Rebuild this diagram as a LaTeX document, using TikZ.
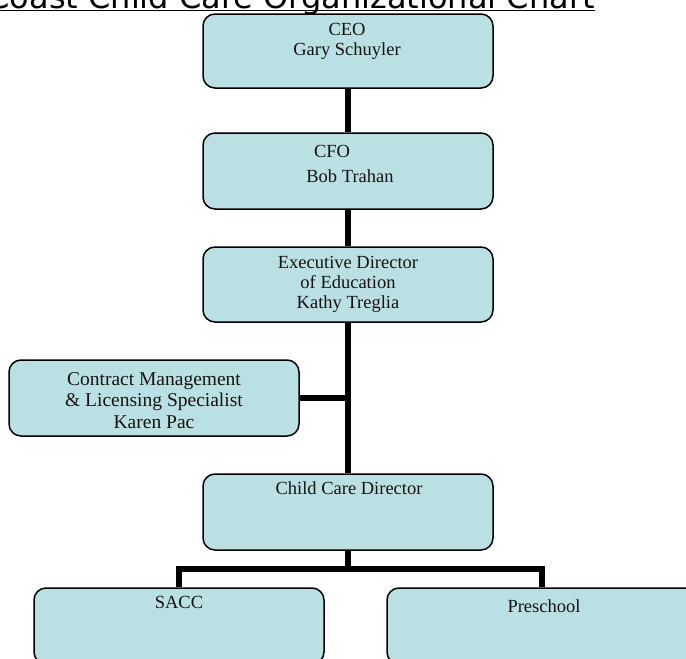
\documentclass[tikz,border=0pt]{standalone}
\usepackage{fontspec}
\newfontfamily\serifface{Liberation Serif}
\newfontfamily\titleface{DejaVu Sans}
\definecolor{boxfill}{RGB}{187,224,227}
\definecolor{textdark}{RGB}{20,20,20}
\tikzset{
  box/.style={draw=black, line width=1.5pt, fill=boxfill, rounded corners=12pt,
    minimum width=290pt, minimum height=76pt, inner sep=0pt},
  lbl/.style={font=\serifface\fontsize{18.5}{20}\selectfont, align=center,
    inner sep=0pt, anchor=north, text=textdark},
  conn/.style={line width=6.5pt, black}
}
\begin{document}
\begin{tikzpicture}[x=1pt,y=-1pt]
\useasboundingbox (0,0) rectangle (686,659);
\begin{scope}
\clip (0,0) rectangle (686,659);
% title
\node[anchor=base east, inner sep=0pt, font=\titleface\fontsize{32}{32}\selectfont, text=black] (title) at (595,8) {Coast Child Care Organizational Chart};
\draw[line width=1.5pt] ([yshift=-2.5pt]title.base west) -- ([yshift=-2.5pt]title.base east);
% boxes
\node[box, minimum height=74pt] (ceo) at (348,51) {};
\node[box] (cfo) at (348,171) {};
\node[box, minimum height=75pt] (exec) at (348,284.5) {};
\node[box] (contract) at (154,398) {};
\node[box] (child) at (348,512) {};
\node[box] (sacc) at (179,626) {};
\node[box, minimum width=310pt] (pre) at (542,626) {};
% connectors
\coordinate (split) at (348,569);
\draw[conn] (ceo.south) -- (cfo.north);
\draw[conn] (cfo.south) -- (exec.north);
\draw[conn] (exec.south) -- (child.north);
\draw[conn] (contract.east) -- (contract.east -| exec.south);
\draw[conn] (child.south) -- (split);
\draw[conn] (sacc.north) |- (split) -| (pre.north);
% labels
\node[lbl] (ceo-t) at (347,23) {CEO\\Gary Schuyler};
\node[lbl] (cfo-t1) at (332,145) {CFO};
\node[lbl] (cfo-t2) at (350,169) {Bob Trahan};
\node[lbl] (exec-t) at (348,256) {Executive Director\\of Education\\Kathy Treglia};
\node[lbl, font=\serifface\fontsize{19.5}{21.5}\selectfont] (contract-t) at (154,372) {Contract Management\\\& Licensing Specialist\\Karen Pac};
\node[lbl] (child-t) at (349,481) {Child Care Director};
\node[lbl] (sacc-t) at (179,596) {SACC};
\node[lbl] (pre-t) at (544,599) {Preschool};
\end{scope}
\end{tikzpicture}
\end{document}
